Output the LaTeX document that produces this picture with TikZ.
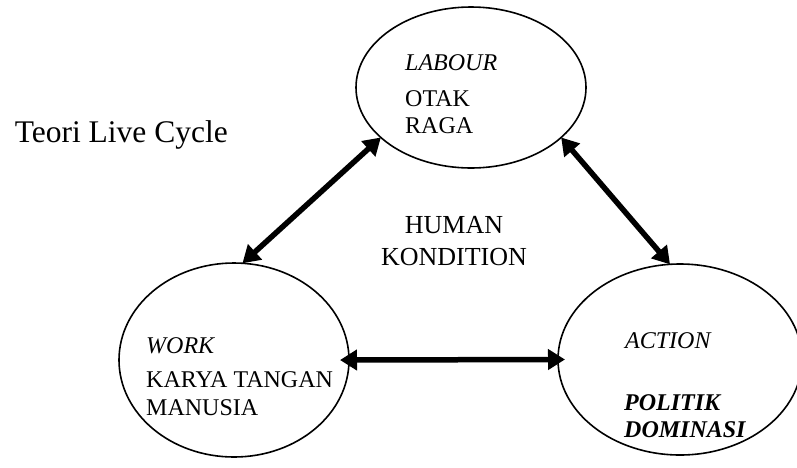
\documentclass[tikz,border=0pt]{standalone}
\usepackage{fontspec}
\setmainfont{Liberation Serif}
\usetikzlibrary{arrows.meta,shapes.geometric}

\tikzset{
  oval/.style={draw, ellipse, line width=1.6pt, inner sep=0pt, outer sep=0pt},
  twoway/.style={line width=5.5pt, {Triangle[length=17pt,width=20pt]}-{Triangle[length=17pt,width=20pt]}},
  lbl/.style={anchor=base west, inner sep=0pt, font=\fontsize{24}{27}\selectfont},
  mid/.style={anchor=base, inner sep=0pt, font=\fontsize{26}{30}\selectfont},
}

\begin{document}
\begin{tikzpicture}[x=1pt, y=-1pt]
			%%%%% START %%%%%
			\useasboundingbox (0,0) rectangle (797,467);
			
			\node[oval, minimum width=230pt, minimum height=161pt] (labour) at (471, 87.5) {};
			\node[oval, minimum width=230pt, minimum height=194pt] (work) at (234, 360) {};
			\node[oval, minimum width=244pt, minimum height=191pt] (action) at (680, 359.5) {};
			
			\node[anchor=base east, inner sep=0pt, font=\fontsize{31.5}{34}\selectfont] (teori) at (228, 142) {Teori Live Cycle};
			
			\node[lbl] (labourtitle) at (405, 70) {\itshape LABOUR};
			\node[lbl] (otak) at (405, 106) {OTAK};
			\node[lbl] (raga) at (405, 133) {RAGA};
			
			\node[mid] (human) at (454, 233) {HUMAN};
			\node[mid] (kondition) at (454, 265) {KONDITION};
			
			\node[lbl] (worktitle) at (146, 353) {\itshape WORK};
			\node[lbl] (karya) at (146, 387) {KARYA TANGAN};
			\node[lbl] (manusia) at (146, 415) {MANUSIA};
			
			\node[lbl] (actiontitle) at (625, 348) {\itshape ACTION};
			\node[lbl] (politik) at (624, 410) {\bfseries\itshape POLITIK};
			\node[lbl] (dominasi) at (624, 437) {\bfseries\itshape DOMINASI};
			
			\draw[twoway] (labour.209) -- (work.85);
			\draw[twoway] (labour.331) -- (action.96);
			\draw[twoway, shorten <=-9pt, shorten >=-7pt] (work.0) -- (action.180);
			
			%%%%% END %%%%%
\end{tikzpicture}
\end{document}
